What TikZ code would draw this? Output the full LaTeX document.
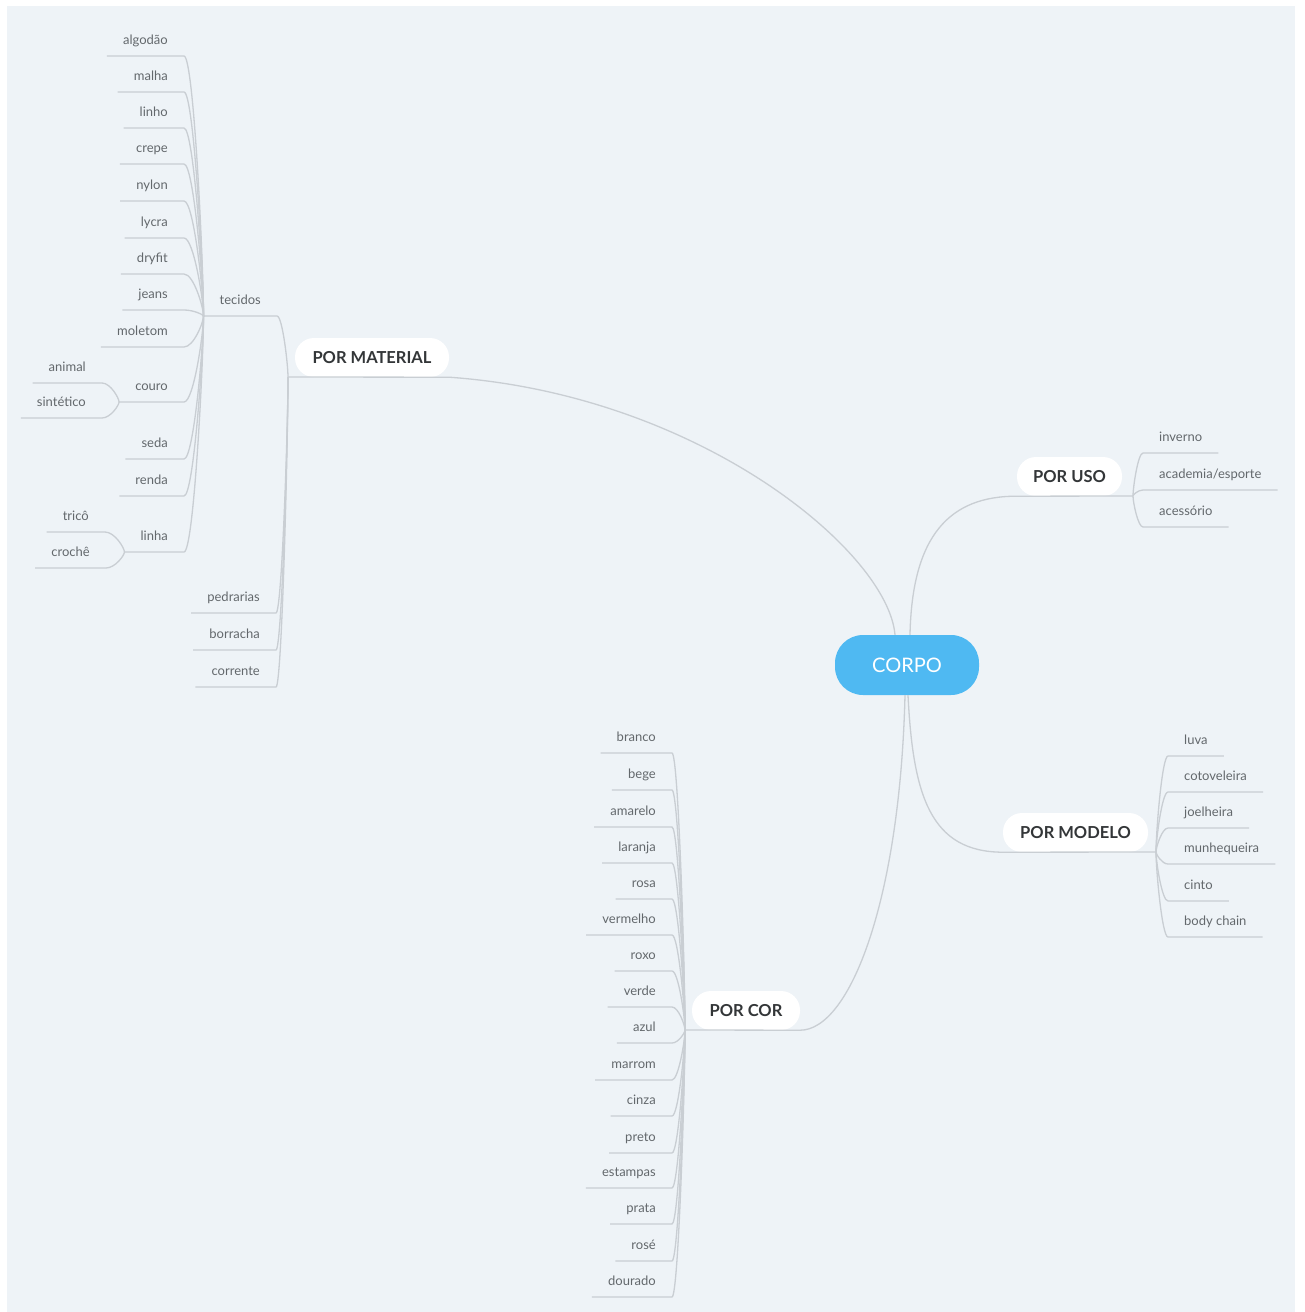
\documentclass[tikz,border=0pt]{standalone}
\usepackage{fontspec}
\setmainfont{Lato}
\usetikzlibrary{calc}
\definecolor{bg}{HTML}{EEF3F7}
\definecolor{ln}{HTML}{C9CED3}
\definecolor{lf}{HTML}{63686C}
\definecolor{br}{HTML}{333638}
\definecolor{ctr}{HTML}{4FB9F2}
\tikzset{
  conn/.style={draw=ln, line width=1.3pt},
  leafL/.style={anchor=south east, inner xsep=16pt, inner ysep=0pt, text height=10pt, text depth=11pt,
    font=\fontsize{13}{15}\selectfont, text=lf},
  leafR/.style={leafL, anchor=south west},
  branch/.style={fill=white, rounded corners=19pt, minimum height=39pt, inner xsep=0pt, inner ysep=0pt,
    text height=11.5pt, text depth=0pt, font=\fontsize{16.5}{18}\selectfont\bfseries, text=br},
  corpo/.style={fill=ctr, rounded corners=28pt, minimum width=144pt, minimum height=60pt,
    font=\fontsize{20}{22}\selectfont, text=white, text height=14pt, text depth=0pt}
}
\newcommand\linkL[2]{\draw[conn] (#1) .. controls ($(#1)!0.2!(#1 |- #2.south east)$) and ($(#2.south east)!0.5!(#1 |- #2.south east)$) .. (#2.south east) -- (#2.south west);}
\newcommand\linkR[2]{\draw[conn] (#1) .. controls ($(#1)!0.2!(#1 |- #2.south west)$) and ($(#2.south west)!0.5!(#1 |- #2.south west)$) .. (#2.south west) -- (#2.south east);}
\begin{document}
\begin{tikzpicture}[x=1pt,y=-1pt]
\useasboundingbox (0,0) rectangle (1304,1312);
\fill[white] (0,0) rectangle (1304,1312);
\fill[bg] (7,6) rectangle (1295,1312);

% central and main branches
\node[corpo] (corpo) at (907,665) {CORPO};
\node[branch, minimum width=154pt] (mat) at (372,357.5) {POR MATERIAL};
\node[branch, minimum width=105pt] (uso) at (1069.5,476.5) {POR USO};
\node[branch, minimum width=145pt] (mod) at (1075.5,832.5) {POR MODELO};
\node[branch, minimum width=108pt] (cor) at (746,1010.5) {POR COR};

\coordinate (jm) at (288,377);
\coordinate (ju) at (1133,496);
\coordinate (jmo) at (1156,852);
\coordinate (jc) at (685,1030);

\draw[conn] ([xshift=-12pt]corpo.north) .. controls (888,552) and (700,395) .. (mat.south east) -- (jm);
\draw[conn] ([xshift=3pt]corpo.north) .. controls (912,535) and (950,496) .. (uso.south west) -- (ju);
\draw[conn] ([xshift=1pt]corpo.south) .. controls (913,795) and (930,852) .. (mod.south west) -- (jmo);
\draw[conn] ([xshift=-2pt]corpo.south) .. controls (900,900) and (850,1030) .. (cor.south east) -- (jc);

% POR MATERIAL children
\node[leafL] (tec) at (277,316) {tecidos};
\node[leafL] (ped) at (276,613) {pedrarias};
\node[leafL] (bor) at (276,650) {borracha};
\node[leafL] (crr) at (276,687) {corrente};
\linkL{jm}{tec}
\linkL{jm}{ped}
\linkL{jm}{bor}
\linkL{jm}{crr}

% tecidos children
\coordinate (jt) at (tec.south west);
\node[leafL] (alg) at (184,56) {algodão};
\node[leafL] (mal) at (184,92) {malha};
\node[leafL] (lin) at (184,128) {linho};
\node[leafL] (cre) at (184,164) {crepe};
\node[leafL] (nyl) at (184,201) {nylon};
\node[leafL] (lyc) at (184,238) {lycra};
\node[leafL] (dry) at (184,274) {dryfit};
\node[leafL] (jea) at (184,310) {jeans};
\node[leafL] (mol) at (184,347) {moletom};
\node[leafL] (cou) at (184,402) {couro};
\node[leafL] (sed) at (184,459) {seda};
\node[leafL] (ren) at (184,496) {renda};
\node[leafL] (lnh) at (184,552) {linha};
\foreach \n in {alg,mal,lin,cre,nyl,lyc,dry,jea,mol,cou,sed,ren,lnh}{\linkL{jt}{\n}}

% couro children
\coordinate (jcou) at (cou.south west);
\node[leafL] (ani) at (102,383) {animal};
\node[leafL] (sin) at (102,418) {sintético};
\linkL{jcou}{ani}
\linkL{jcou}{sin}

% linha children
\coordinate (jlin) at (lnh.south west);
\node[leafL] (tri) at (105,532) {tricô};
\node[leafL] (cro) at (106,568) {crochê};
\linkL{jlin}{tri}
\linkL{jlin}{cro}

% POR USO children
\node[leafR] (inv) at (1143,453) {inverno};
\node[leafR] (aca) at (1143,490) {academia/esporte};
\node[leafR] (ace) at (1143,527) {acessório};
\foreach \n in {inv,aca,ace}{\linkR{ju}{\n}}

% POR MODELO children
\node[leafR] (luv) at (1168,756) {luva};
\node[leafR] (cot) at (1168,792) {cotoveleira};
\node[leafR] (joe) at (1168,828) {joelheira};
\node[leafR] (mun) at (1168,864) {munhequeira};
\node[leafR] (cin) at (1168,901) {cinto};
\node[leafR] (bod) at (1168,937) {body chain};
\foreach \n in {luv,cot,joe,mun,cin,bod}{\linkR{jmo}{\n}}

% POR COR children
\node[leafL] (bra) at (672,753) {branco};
\node[leafL] (beg) at (672,790) {bege};
\node[leafL] (ama) at (672,827) {amarelo};
\node[leafL] (lar) at (672,863) {laranja};
\node[leafL] (ros) at (672,899) {rosa};
\node[leafL] (ver) at (672,935) {vermelho};
\node[leafL] (rox) at (672,971) {roxo};
\node[leafL] (vrd) at (672,1007) {verde};
\node[leafL] (azu) at (672,1043) {azul};
\node[leafL] (mar) at (672,1080) {marrom};
\node[leafL] (cnz) at (672,1116) {cinza};
\node[leafL] (pre) at (672,1153) {preto};
\node[leafL] (est) at (672,1188) {estampas};
\node[leafL] (pra) at (672,1224) {prata};
\node[leafL] (rse) at (672,1261) {rosé};
\node[leafL] (dou) at (672,1297) {dourado};
\foreach \n in {bra,beg,ama,lar,ros,ver,rox,vrd,azu,mar,cnz,pre,est,pra,rse,dou}{\linkL{jc}{\n}}
\end{tikzpicture}
\end{document}
